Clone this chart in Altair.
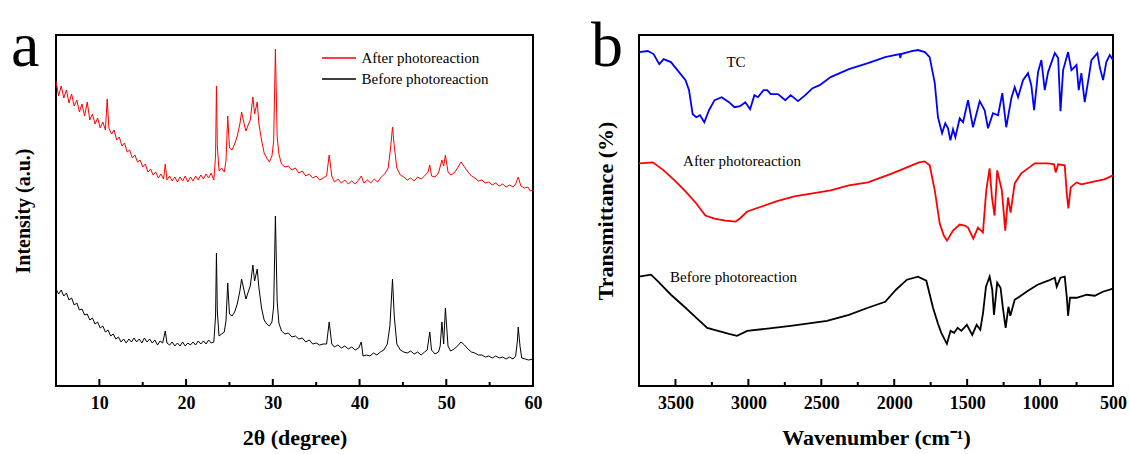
import altair as alt
import pandas as pd

FONT = "Liberation Serif"

# ---------------- XRD data (panel a) ----------------
xrd_theta_after = [5.0, 5.3, 5.6, 5.9, 6.2, 6.5, 6.8, 7.1, 7.4, 7.7, 8.0, 8.3, 8.6, 8.9, 9.2, 9.5, 9.8, 10.1, 10.4, 10.7,
                   10.9, 11.1, 11.4, 11.7, 12.0, 12.3, 12.6, 12.9, 13.2, 13.5, 13.8, 14.1, 14.4, 14.7, 15.0, 15.3, 15.6,
                   15.9, 16.2, 16.5, 16.8, 17.1, 17.4, 17.6, 17.8, 18.1, 18.4, 18.7, 19.0, 19.3, 19.6, 19.9, 20.2, 20.5,
                   20.8, 21.1, 21.4, 21.7, 22.0, 22.3, 22.6, 22.9, 23.2, 23.4, 23.5, 23.6, 23.8, 24.1, 24.4, 24.6, 24.8,
                   25.0, 25.3, 25.6, 25.9, 26.2, 26.4, 26.7, 26.9, 27.2, 27.4, 27.7, 27.9, 28.2, 28.4, 28.7, 29.0, 29.3,
                   29.6, 29.9, 30.1, 30.3, 30.5, 30.7, 31.0, 31.4, 31.8, 32.2, 32.6, 33.0, 33.4, 33.8, 34.2, 34.6, 35.0,
                   35.4, 35.8, 36.2, 36.5, 36.8, 37.1, 37.5, 37.9, 38.3, 38.7, 39.1, 39.5, 39.9, 40.2, 40.5, 40.9, 41.3,
                   41.7, 42.1, 42.5, 42.9, 43.3, 43.6, 43.8, 44.0, 44.3, 44.7, 45.1, 45.5, 45.9, 46.3, 46.7, 47.1, 47.5,
                   47.9, 48.1, 48.3, 48.7, 49.1, 49.5, 49.7, 49.9, 50.2, 50.5, 50.9, 51.3, 51.7, 52.1, 52.5, 52.9, 53.3,
                   53.7, 54.1, 54.5, 54.9, 55.3, 55.7, 56.1, 56.5, 56.9, 57.3, 57.7, 58.0, 58.3, 58.6, 59.0, 59.4, 59.7,
                   60.0]
xrd_after = [305, 290, 300, 288, 296, 283, 292, 280, 286, 274, 282, 270, 284, 266, 272, 262, 268, 258, 264, 256,
             287, 258, 252, 256, 246, 249, 240, 243, 234, 236, 228, 231, 224, 226, 219, 222, 214,
             217, 211, 214, 208, 212, 207, 222, 206, 210, 205, 209, 204, 209, 205, 210, 204, 209,
             205, 210, 206, 211, 207, 212, 208, 213, 206, 230, 300, 240, 215, 218, 214, 225, 270,
             238, 236, 242, 250, 262, 274, 262, 255, 262, 266, 289, 272, 284, 262, 246, 233, 228,
             224, 230, 245, 337, 250, 232, 222, 219, 220, 216, 218, 213, 215, 210, 212, 208, 210,
             206, 208, 210, 231, 210, 204, 207, 203, 206, 202, 205, 202, 206, 210, 203, 206, 203,
             207, 204, 209, 212, 218, 240, 259, 240, 218, 211, 209, 206, 208, 205, 209, 207, 210,
             214, 221, 210, 209, 213, 226, 220, 231, 214, 211, 213, 218, 224, 219, 214, 210, 208,
             205, 206, 203, 204, 201, 203, 200, 202, 199, 201, 199, 202, 209, 200, 198, 199, 195,
             196]

xrd_theta_before = [5.0, 5.3, 5.6, 5.9, 6.2, 6.5, 6.8, 7.1, 7.4, 7.7, 8.0, 8.3, 8.6, 8.9, 9.2, 9.5, 9.8, 10.1, 10.4,
                    10.7, 11.0, 11.3, 11.6, 11.9, 12.2, 12.5, 12.8, 13.1, 13.4, 13.7, 14.0, 14.3, 14.6, 14.9, 15.2,
                    15.5, 15.8, 16.1, 16.4, 16.7, 17.0, 17.3, 17.6, 17.8, 18.1, 18.4, 18.7, 19.0, 19.3, 19.6, 19.9,
                    20.2, 20.5, 20.8, 21.1, 21.4, 21.7, 22.0, 22.3, 22.6, 22.9, 23.2, 23.4, 23.5, 23.6, 23.8, 24.1,
                    24.4, 24.6, 24.8, 25.0, 25.3, 25.6, 25.9, 26.2, 26.4, 26.7, 26.9, 27.2, 27.4, 27.7, 27.9, 28.2,
                    28.4, 28.7, 29.0, 29.3, 29.6, 29.9, 30.1, 30.3, 30.5, 30.7, 31.0, 31.4, 31.8, 32.2, 32.6, 33.0,
                    33.4, 33.8, 34.2, 34.6, 35.0, 35.4, 35.8, 36.2, 36.5, 36.8, 37.1, 37.5, 37.9, 38.3, 38.7, 39.1,
                    39.5, 39.9, 40.2, 40.4, 40.8, 41.2, 41.6, 42.0, 42.4, 42.8, 43.2, 43.5, 43.8, 44.0, 44.3, 44.7,
                    45.1, 45.5, 45.9, 46.3, 46.7, 47.1, 47.5, 47.8, 48.1, 48.3, 48.7, 49.1, 49.3, 49.5, 49.7, 49.9,
                    50.2, 50.5, 50.9, 51.3, 51.7, 52.1, 52.5, 52.9, 53.3, 53.7, 54.1, 54.5, 54.9, 55.3, 55.7, 56.1,
                    56.5, 56.9, 57.3, 57.7, 58.0, 58.2, 58.3, 58.5, 58.7, 59.1, 59.5, 60.0]
xrd_before = [97, 92, 96, 90, 93, 86, 88, 81, 83, 76, 77, 71, 72, 66, 68, 62, 64, 58, 60,
              54, 56, 50, 52, 47, 49, 44, 47, 43, 47, 44, 48, 44, 47, 43, 48,
              44, 47, 43, 46, 41, 45, 43, 55, 43, 41, 44, 40, 43, 40, 44, 40,
              43, 41, 44, 41, 45, 42, 45, 42, 46, 43, 44, 70, 133, 75, 50, 52,
              54, 65, 103, 72, 70, 74, 82, 95, 107, 95, 87, 95, 100, 121, 105, 117,
              98, 78, 66, 62, 60, 64, 80, 170, 85, 63, 55, 52, 53, 49, 50, 47,
              48, 44, 46, 42, 43, 41, 42, 42, 64, 42, 39, 41, 38, 40, 37, 39,
              36, 38, 44, 30, 31, 30, 33, 31, 34, 36, 42, 60, 107, 70, 42, 36,
              34, 33, 35, 32, 34, 31, 34, 36, 54, 36, 32, 34, 40, 64, 42, 78,
              40, 35, 37, 40, 44, 41, 37, 34, 33, 31, 31, 29, 30, 28, 30, 28,
              29, 27, 29, 27, 30, 45, 59, 40, 28, 27, 26, 27]

xrd_series = ["After photoreaction", "Before photoreaction"]
xrd_colors = ["#ff0000", "#000000"]
xrd_major_ticks = [10, 20, 30, 40, 50, 60]
xrd_minor_ticks = [15, 25, 35, 45, 55]

# ---------------- FTIR data (panel b) ----------------
ftir_wn_tc = [3750, 3690, 3650, 3611, 3581, 3531, 3481, 3431, 3407, 3382, 3357, 3332, 3302, 3270, 3232, 3183, 3133,
              3095, 3058, 3021, 2988, 2959, 2934, 2896, 2871, 2847, 2797, 2747, 2710, 2660, 2610, 2560, 2511, 2436,
              2311, 2180, 2062, 1963, 1958, 1953, 1880, 1837, 1790, 1757, 1722, 1700, 1672, 1650, 1631, 1615, 1597,
              1581, 1551, 1528, 1494, 1460, 1414, 1380, 1357, 1323, 1288, 1259, 1232, 1197, 1174, 1151, 1117, 1083,
              1060, 1041, 1014, 991, 968, 945, 899, 876, 860, 842, 808, 785, 750, 735, 717, 694, 666, 648, 607, 591,
              568, 546, 522, 500]
ftir_tc = [333, 334, 331, 321, 326, 323, 314, 305, 295, 271, 268, 270, 263, 275, 285, 288, 283,
           278, 279, 283, 276, 290, 288, 295, 295, 291, 291, 285, 290, 284, 290, 297, 300, 308,
           316, 322, 328, 331, 327, 331, 334, 335, 333, 328, 302, 268, 252, 262, 257, 245, 256,
           248, 267, 263, 285, 258, 284, 275, 257, 272, 270, 292, 258, 287, 298, 288, 305, 312,
           300, 275, 313, 325, 295, 313, 332, 327, 274, 315, 333, 315, 320, 295, 312, 283, 308, 325, 332, 318,
           305, 323, 330, 325]

ftir_wn_after = [3750, 3655, 3581, 3506, 3431, 3357, 3295, 3232, 3158, 3088, 3058, 3008, 2909, 2809, 2685, 2560,
                 2436, 2311, 2180, 2013, 1913, 1830, 1791, 1757, 1722, 1688, 1660, 1638, 1597, 1551, 1517, 1494,
                 1458, 1426, 1392, 1369, 1346, 1330, 1312, 1294, 1278, 1262, 1239, 1220, 1202, 1174, 1129, 1083,
                 1037, 945, 904, 893, 876, 831, 817, 806, 790, 750, 717, 625, 560, 500]
ftir_after = [222, 223, 215, 205, 194, 182, 170, 167, 165, 164, 167, 174, 179, 184, 189, 192,
              195, 200, 203, 212, 218, 223, 224, 220, 195, 162, 150, 145, 155, 161, 160, 158,
              147, 158, 153, 195, 217, 188, 170, 215, 205, 195, 155, 188, 173, 202, 212, 217,
              222, 222, 221, 213, 221, 220, 192, 177, 198, 203, 201, 204, 206, 210]

ftir_wn_before = [3750, 3668, 3618, 3531, 3431, 3357, 3282, 3208, 3133, 3078, 3008, 2884, 2710, 2560, 2461, 2311,
                  2180, 2062, 1988, 1913, 1837, 1780, 1734, 1700, 1677, 1639, 1614, 1589, 1565, 1540, 1502, 1465,
                  1435, 1410, 1391, 1371, 1346, 1328, 1316, 1294, 1271, 1255, 1236, 1217, 1204, 1174, 1142, 1083,
                  1017, 945, 899, 886, 860, 831, 817, 808, 795, 750, 680, 625, 570, 500]
ftir_before = [109, 111, 104, 91, 78, 68, 58, 55, 52, 50, 55, 57, 60, 63, 65, 71,
               78, 84, 96, 106, 109, 105, 78, 62, 53, 42, 55, 53, 58, 55, 61, 51,
               61, 56, 73, 99, 109, 96, 71, 103, 98, 78, 58, 79, 70, 86, 89, 95,
               101, 105, 108, 99, 108, 109, 89, 70, 88, 88, 91, 90, 94, 97]

ftir_series = ["TC", "After photoreaction", "Before photoreaction"]
ftir_colors = ["#0000ff", "#ff0000", "#000000"]
ftir_label_text = ["TC", "After photoreaction", "Before photoreaction"]
ftir_label_wn = [3085, 3448, 3537]
ftir_label_y = [323, 224, 109]
ftir_major_ticks = [3500, 3000, 2500, 2000, 1500, 1000, 500]
ftir_minor_ticks = [3250, 2750, 2250, 1750, 1250, 750]

# ---------------- tables ----------------
xrd_df = pd.concat([
    pd.DataFrame({"theta": xrd_theta_after, "intensity": xrd_after, "sample": xrd_series[0]}),
    pd.DataFrame({"theta": xrd_theta_before, "intensity": xrd_before, "sample": xrd_series[1]}),
], ignore_index=True)

ftir_df = pd.concat([
    pd.DataFrame({"wn": ftir_wn_tc, "t": ftir_tc, "sample": ftir_series[0]}),
    pd.DataFrame({"wn": ftir_wn_after, "t": ftir_after, "sample": ftir_series[1]}),
    pd.DataFrame({"wn": ftir_wn_before, "t": ftir_before, "sample": ftir_series[2]}),
], ignore_index=True)

ftir_labels = pd.DataFrame({"wn": ftir_label_wn, "t": ftir_label_y, "label": ftir_label_text})

W_A, W_B, H = 477, 474, 351


def tick_marks(field, major, minor, scale, h):
    out = []
    for vals, ln in ((major, 7), (minor, 4)):
        out.append(alt.Chart(pd.DataFrame({field: vals})).mark_rule(color="black", strokeWidth=2).encode(
            x=alt.X(f"{field}:Q", scale=scale),
            y=alt.value(h - ln), y2=alt.value(h)))
    return out


# ---------------- panel a ----------------
xa_scale = alt.Scale(domain=[5, 60], nice=False, zero=False, padding=0)
ya_scale = alt.Scale(domain=[0, 351], nice=False, zero=False, padding=0)

label_axis_a = alt.Axis(values=xrd_major_ticks, format="d", ticks=False, domain=False, grid=False,
                        labelFont=FONT, labelFontSize=18, labelFontWeight="bold", labelColor="black",
                        labelPadding=8, labelFlush=False, labelOverlap=False,
                        title="2θ (degree)", titleFont=FONT, titleFontSize=22,
                        titleFontWeight="bold", titleColor="black", titlePadding=15, orient="bottom")

lines_a = alt.Chart(xrd_df).mark_line(strokeWidth=1, interpolate="linear").encode(
    x=alt.X("theta:Q", scale=xa_scale, axis=label_axis_a),
    y=alt.Y("intensity:Q", scale=ya_scale,
            axis=alt.Axis(labels=False, ticks=False, domain=False, grid=False, title="Intensity (a.u.)",
                          titleFont=FONT, titleFontSize=20, titleFontWeight="bold", titleColor="black",
                          titlePadding=23)),
    color=alt.Color("sample:N", scale=alt.Scale(domain=xrd_series, range=xrd_colors),
                    legend=alt.Legend(orient="none", legendX=273.5, legendY=13.5, title=None,
                                      symbolType="M-2,0H2", symbolSize=289, symbolStrokeWidth=1.5,
                                      labelFont=FONT, labelFontSize=15, labelColor="black", labelOffset=13,
                                      rowPadding=3, padding=0)),
    detail="sample:N",
)

letter_a = alt.Chart(pd.DataFrame({"t": ["a"]})).mark_text(
    font=FONT, fontSize=64, align="left", baseline="alphabetic", color="black"
).encode(text="t:N", x=alt.value(-45), y=alt.value(31))

panel_a = alt.layer(lines_a, *tick_marks("theta", xrd_major_ticks, xrd_minor_ticks, xa_scale, H),
                    letter_a).properties(width=W_A, height=H)

# ---------------- panel b ----------------
xb_scale = alt.Scale(domain=[500, 3750], nice=False, zero=False, reverse=True, padding=0)
yb_scale = alt.Scale(domain=[0, 350], nice=False, zero=False, padding=0)

label_axis_b = alt.Axis(values=ftir_major_ticks, format="d", ticks=False, domain=False, grid=False,
                        labelFont=FONT, labelFontSize=18, labelFontWeight="bold", labelColor="black",
                        labelPadding=8, labelFlush=False, labelOverlap=False,
                        title="Wavenumber (cm⁻¹)", titleFont=FONT, titleFontSize=22,
                        titleFontWeight="bold", titleColor="black", titlePadding=15, orient="bottom")

y_axis_b = alt.Axis(labels=False, ticks=False, domain=False, grid=False, title="Transmittance (%)",
                    titleFont=FONT, titleFontSize=22, titleFontWeight="bold", titleColor="black",
                    titlePadding=22)

lines_b = alt.Chart(ftir_df).mark_line(strokeWidth=1.8).encode(
    x=alt.X("wn:Q", scale=xb_scale, axis=label_axis_b),
    y=alt.Y("t:Q", scale=yb_scale, axis=y_axis_b),
    color=alt.Color("sample:N", scale=alt.Scale(domain=ftir_series, range=ftir_colors), legend=None),
    order=alt.Order("wn:Q", sort="descending"),
)

labels_tc = alt.Chart(ftir_labels.iloc[:1]).mark_text(
    font=FONT, fontSize=15, baseline="middle", align="center", color="black"
).encode(x=alt.X("wn:Q", scale=xb_scale), y=alt.Y("t:Q", scale=yb_scale), text="label:N")

labels_other = alt.Chart(ftir_labels.iloc[1:]).mark_text(
    font=FONT, fontSize=15, baseline="middle", align="left", color="black"
).encode(x=alt.X("wn:Q", scale=xb_scale), y=alt.Y("t:Q", scale=yb_scale), text="label:N")

letter_b = alt.Chart(pd.DataFrame({"t": ["b"]})).mark_text(
    font=FONT, fontSize=64, align="left", baseline="alphabetic", color="black"
).encode(text="t:N", x=alt.value(-48), y=alt.value(31))

panel_b = alt.layer(lines_b, labels_tc, labels_other,
                    *tick_marks("wn", ftir_major_ticks, ftir_minor_ticks, xb_scale, H),
                    letter_b).properties(width=W_B, height=H)

chart = alt.hconcat(panel_a, panel_b, spacing=47).resolve_scale(color="independent").configure_view(
    stroke="black", strokeWidth=2
).properties(padding={"left": 10, "top": 14, "right": 0, "bottom": 5}, background="white")

chart.save("out.html", embed_options={"renderer": "svg", "actions": False})
